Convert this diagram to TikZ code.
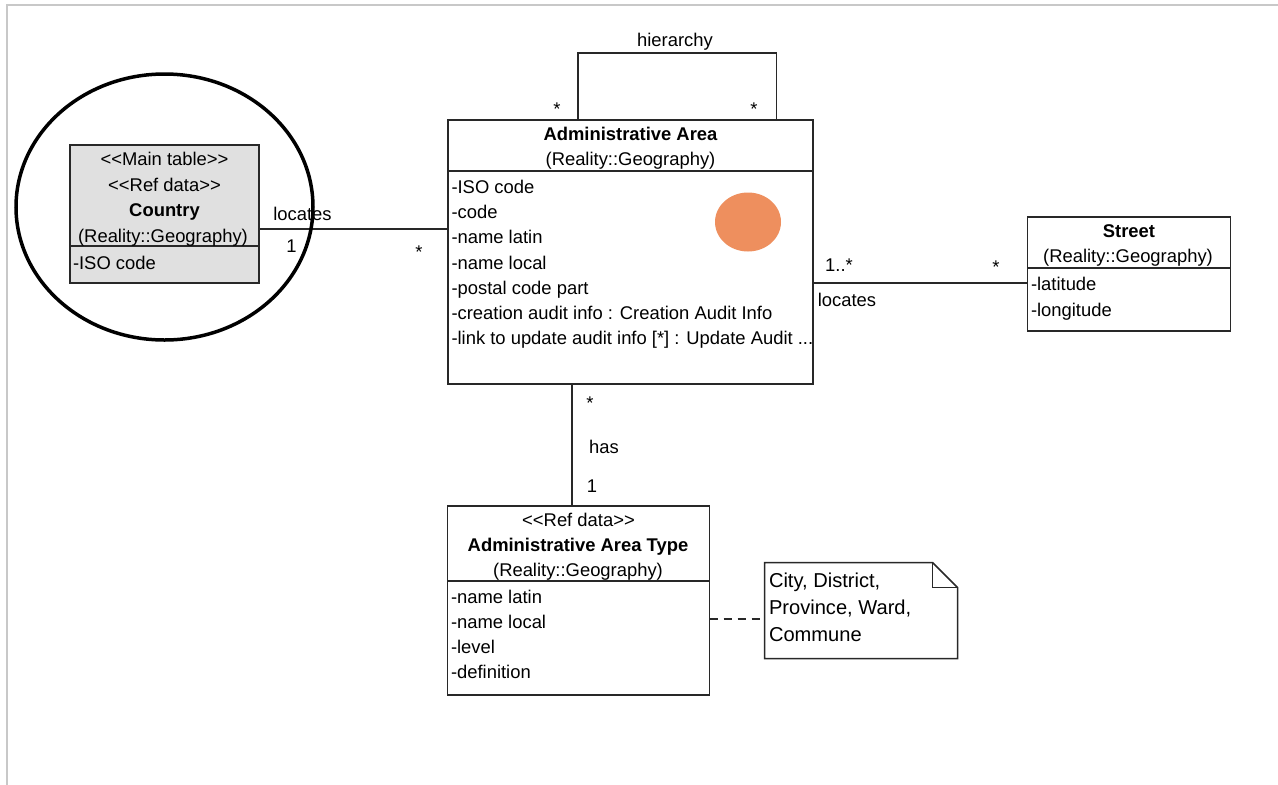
\documentclass[tikz,border=0pt]{standalone}
\usepackage{fontspec}
\setmainfont{Liberation Sans}[Ligatures=TeXOff]
\definecolor{linecol}{RGB}{40,40,40}
\definecolor{framecol}{RGB}{200,200,200}
\definecolor{refgray}{RGB}{224,224,224}
\definecolor{markorange}{RGB}{238,143,94}
\begin{document}
\begin{tikzpicture}[x=1pt,y=-1pt,
  umlbox/.style={draw=linecol, line width=1.5pt, inner sep=0pt, outer sep=0pt},
  txt/.style={inner sep=0pt, outer sep=0pt, font=\fontsize{18.4}{22}\selectfont},
  attr/.style={txt, anchor=base west},
  hdr/.style={txt, anchor=base},
  notetext/.style={attr, font=\fontsize{20.1}{24}\selectfont},
  conn/.style={draw=linecol, line width=1.5pt},
  divider/.style={draw=linecol, line width=1.5pt}]
\useasboundingbox (0,0) rectangle (1278,785);
\fill[white] (0,0) rectangle (1278,785);

% page frame
\draw[framecol, line width=2pt] (7,785) -- (7,5) -- (1278,5);

% ---- class boxes ----
\node[umlbox, fill=refgray, minimum width=189, minimum height=138] (country) at (164.5,214) {};
\node[umlbox, fill=white, minimum width=365, minimum height=264] (aa) at (630.5,252) {};
\node[umlbox, fill=white, minimum width=203, minimum height=114] (street) at (1129,274) {};
\node[umlbox, fill=white, minimum width=262, minimum height=189] (type) at (578.5,600.3) {};

% compartment dividers
\draw[divider] ([yshift=-101pt]country.north west) -- ([yshift=-101pt]country.north east);
\draw[divider] ([yshift=-51pt]aa.north west) -- ([yshift=-51pt]aa.north east);
\draw[divider] ([yshift=-51pt]street.north west) -- ([yshift=-51pt]street.north east);
\draw[divider] ([yshift=-75pt]type.north west) -- ([yshift=-75pt]type.north east);

% ---- Country ----
\node[hdr] (c-s1) at (164.5,165) {<<Main table>>};
\node[hdr] (c-s2) at (164.5,191) {<<Ref data>>};
\node[hdr, font=\fontsize{18.4}{22}\selectfont\bfseries] (c-name) at (164.5,216) {Country};
\node[hdr] (c-pkg) at (163,242) {(Reality::Geography)};
\node[attr] (c-a1) at (73,269) {-ISO code};

% ---- Administrative Area ----
\node[hdr, font=\fontsize{18.4}{22}\selectfont\bfseries] (aa-name) at (630.5,140.5) {Administrative Area};
\node[hdr] (aa-pkg) at (630.5,165) {(Reality::Geography)};
\foreach \t [count=\i] in {{-ISO code},{-code},{-name latin},{-name local},{-postal code part},
    {-creation audit info : Creation Audit Info}}
  \node[attr] (aa-a\i) at (451.5,193.5+25.2*\i-25.2) {\t};
\node[attr] (aa-a7) at (451.5,344.7) {-link to update audit info [*] : Update Audit ...};
\fill[markorange] (748,222) ellipse [x radius=33, y radius=29.5];

% ---- Street ----
\node[hdr, font=\fontsize{18.4}{22}\selectfont\bfseries] (st-name) at (1129,237.3) {Street};
\node[hdr] (st-pkg) at (1128,262.5) {(Reality::Geography)};
\node[attr] (st-a1) at (1031,290.7) {-latitude};
\node[attr] (st-a2) at (1031,316) {-longitude};

% ---- Administrative Area Type ----
\node[hdr] (t-s1) at (578.5,526.7) {<<Ref data>>};
\node[hdr, font=\fontsize{18.4}{22}\selectfont\bfseries] (t-name) at (578,551.7) {Administrative Area Type};
\node[hdr] (t-pkg) at (578,576) {(Reality::Geography)};
\foreach \t [count=\i] in {{-name latin},{-name local},{-level},{-definition}}
  \node[attr] (t-a\i) at (451,603.3+25*\i-25) {\t};

% ---- note ----
\node[inner sep=0pt, outer sep=0pt, minimum width=193, minimum height=96] (note) at (861,610.5) {};
\draw[linecol, line width=1.5pt, fill=white]
  (note.north west) -- ([xshift=-25pt]note.north east) -- ([yshift=-25pt]note.north east)
  -- (note.south east) -- (note.south west) -- cycle;
\draw[linecol, line width=1.5pt] ([xshift=-25pt]note.north east) |- ([yshift=-25pt]note.north east);
\node[notetext] (n-1) at (769,587.5) {City, District,};
\node[notetext] (n-2) at (769,614.8) {Province, Ward,};
\node[notetext] (n-3) at (769,641.7) {Commune};

% ---- connectors ----
\draw[conn] ([yshift=-15pt]country.east) -- ([yshift=23pt]aa.west);
\draw[conn] ([yshift=-31pt]aa.east) -- ([yshift=-9pt]street.west);
\draw[conn] ([xshift=-58.5pt]aa.south) -- ([xshift=-6.5pt]type.north);
\draw[conn] ([xshift=-52.5pt]aa.north) -- ++(0,-67) -| ([xshift=146pt]aa.north);
\draw[conn, line width=1.8pt, dash pattern=on 8pt off 6pt] ([yshift=-19pt]type.east) -- ([yshift=-8.8pt]note.west);

% association labels
\node[hdr] (l-hier) at (675,46) {hierarchy};
\node[hdr] (l-h1) at (557,115) {*};
\node[hdr] (l-h2) at (754,115) {*};
\node[hdr] (l-loc1) at (302.5,220.7) {locates};
\node[hdr] (l-m1) at (291.5,252.5) {1};
\node[hdr] (l-m2) at (419,258) {*};
\node[hdr] (l-m3) at (839,271.7) {1..*};
\node[hdr] (l-m4) at (996,273.5) {*};
\node[hdr] (l-loc2) at (847,306.7) {locates};
\node[hdr] (l-m5) at (590,409) {*};
\node[hdr] (l-has) at (604,453.5) {has};
\node[hdr] (l-m6) at (592,492.5) {1};

% highlight ring around Country
\draw[black, line width=3.5pt] (164.5,207) ellipse [x radius=148.5, y radius=133];
\end{tikzpicture}
\end{document}
